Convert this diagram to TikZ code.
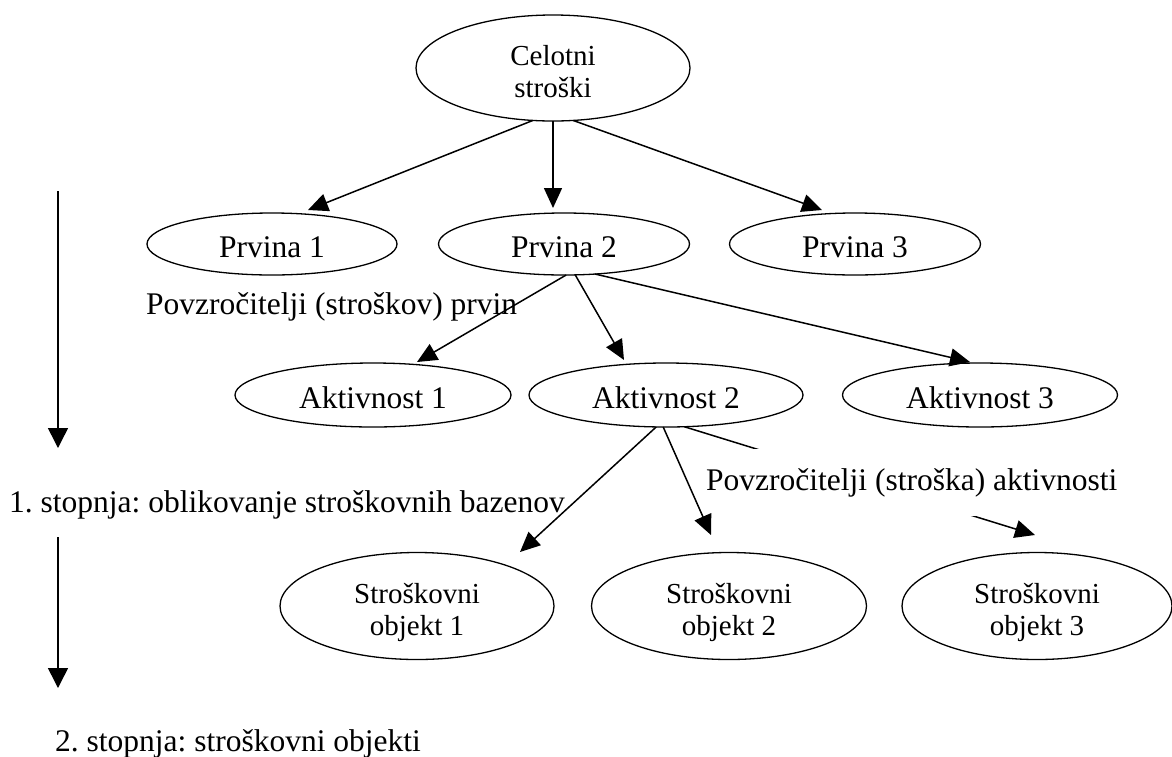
\documentclass[tikz,border=0pt]{standalone}
\usepackage{fontspec}
\setmainfont{Liberation Serif}
\frenchspacing
\usetikzlibrary{arrows.meta,shapes.geometric,calc}
\begin{document}
\begin{tikzpicture}[x=1pt,y=-1pt,
  ell/.style={draw, ellipse, line width=1.3pt, inner sep=0pt, outer sep=0pt},
  one/.style={ell, font=\fontsize{31.5}{36}\selectfont\frenchspacing, text height=26pt, text depth=0pt},
  two/.style={font=\fontsize{29}{32}\selectfont, align=center, inner sep=0pt},
  arr/.style={line width=1.5pt, -{Triangle[length=20pt,width=18pt]}},
  bigarr/.style={line width=1.5pt, -{Triangle[length=20pt,width=20pt]}},
  lbl/.style={font=\fontsize{31.5}{36}\selectfont\frenchspacing, inner sep=0pt}
]
\useasboundingbox (0,0) rectangle (1172,756);

% nodes
\node[ell, minimum width=274pt, minimum height=106pt,
      label={[two,yshift=-4pt]center:Celotni\\stroški}] (cel) at (553,68) {};
\node[one, minimum width=250pt, minimum height=62pt] (p1) at (272,244) {Prvina 1};
\node[one, minimum width=251pt, minimum height=62pt] (p2) at (564,244) {Prvina 2};
\node[one, minimum width=251pt, minimum height=62pt] (p3) at (855,244) {Prvina 3};
\node[one, minimum width=276pt, minimum height=64pt] (a1) at (373,395) {Aktivnost 1};
\node[one, minimum width=274pt, minimum height=64pt] (a2) at (666,395) {Aktivnost 2};
\node[one, minimum width=275pt, minimum height=64pt] (a3) at (980,395) {Aktivnost 3};
\node[ell, minimum width=274pt, minimum height=107pt,
      label={[two,yshift=-6pt]center:Stroškovni\\objekt 1}] (s1) at (417,606) {};
\node[ell, minimum width=275pt, minimum height=107pt,
      label={[two,yshift=-6pt]center:Stroškovni\\objekt 2}] (s2) at (729,606) {};
\node[ell, minimum width=270pt, minimum height=107pt,
      label={[two,yshift=-6pt]center:Stroškovni\\objekt 3}] (s3) at (1037,606) {};

% labels
\node[lbl, anchor=base west] (lab1) at (146,314) {Povzročitelji (stroškov) prvin};
\node[lbl, anchor=base west] (lab2) at (9,512) {1. stopnja: oblikovanje stroškovnih bazenov};
\node[lbl, anchor=base west] (lab4) at (55,751) {2. stopnja: stroškovni objekti};

% arrows from top
\draw[arr] (cel.249) -- ($(p1)+(36,-34)$);
\draw[arr, shorten >=5pt] (cel.south) -- (cel.south |- p2.north);
\draw[arr] (cel.291) -- ($(p3)+(-33,-34)$);

% arrows from Prvina 2
\draw[arr] (p2.274) -- ($(a1)+(44,-33)$);
\draw[arr] (p2.290) -- ($(a2)+(-42,-35)$);
\draw[arr] (p2.316) -- ($(a3)+(-10,-33)$);

% arrows from Aktivnost 2
\draw[arr] (a2.300) -- ($(s3)+(-2,-71)$);
\node[lbl, anchor=base west, fill=white, inner xsep=5pt, minimum height=67pt] (lab3) at (701,490) {Povzročitelji (stroška) aktivnosti};
\draw[arr] (a2.253) -- ($(s1)+(103,-54)$);
\draw[arr] (a2.265) -- ($(s2)+(-18,-71)$);

% left stage arrows
\coordinate (l1s) at (58,191);
\coordinate (l1e) at (58,448);
\coordinate (l2s) at (58,537);
\coordinate (l2e) at (58,688);
\draw[bigarr] (l1s) -- (l1e);
\draw[bigarr] (l2s) -- (l2e);
\end{tikzpicture}
\end{document}
